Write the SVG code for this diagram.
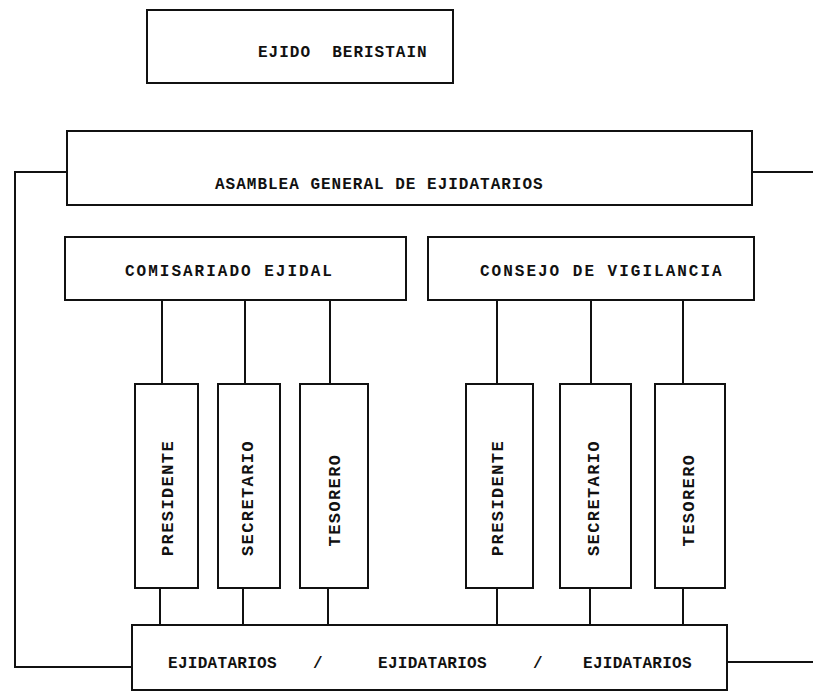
<svg xmlns="http://www.w3.org/2000/svg" width="813" height="695" viewBox="0 0 813 695">
<style>
.box{fill:none;stroke:#111;stroke-width:2}
.ln{fill:none;stroke:#111;stroke-width:2}
.t{font-family:"Liberation Mono","DejaVu Sans Mono",monospace;font-size:16px;font-weight:bold;fill:#111;letter-spacing:1px;white-space:pre}
.w{letter-spacing:2px}
.n{letter-spacing:0.3px}
.v{font-size:17px;letter-spacing:1.4px}
</style>
<rect width="813" height="695" fill="#fff"/>
<g id="connectors">
<path class="ln" d="M67,172 H15 V667 H132"/>
<path class="ln" d="M752,172 H813"/>
<path class="ln" d="M727,662 H813"/>
<path class="ln" d="M162,300 V384 M245,300 V384 M330,300 V384"/>
<path class="ln" d="M497,300 V384 M591,300 V384 M683,300 V384"/>
<path class="ln" d="M160,588 V625 M243,588 V625 M328,588 V625"/>
<path class="ln" d="M497,588 V625 M590,588 V625 M683,588 V625"/>
</g>
<g id="ejido">
<rect class="box" x="147" y="10" width="306" height="73"/>
<text class="t" x="258" y="57" xml:space="preserve">EJIDO  BERISTAIN</text>
</g>
<g id="asamblea">
<rect class="box" x="67" y="131" width="685" height="74"/>
<text class="t" x="215" y="189">ASAMBLEA GENERAL DE EJIDATARIOS</text>
</g>
<g id="comisariado">
<rect class="box" x="65" y="237" width="341" height="63"/>
<text class="t w" x="125" y="276">COMISARIADO EJIDAL</text>
</g>
<g id="consejo">
<rect class="box" x="428" y="237" width="326" height="63"/>
<text class="t w" x="480" y="276">CONSEJO DE VIGILANCIA</text>
</g>
<g id="c-presidente">
<rect class="box" x="135" y="384" width="63" height="204"/>
<text class="t v" transform="translate(173,498) rotate(-90)" text-anchor="middle">PRESIDENTE</text>
</g>
<g id="c-secretario">
<rect class="box" x="218" y="384" width="62" height="204"/>
<text class="t v" transform="translate(253,498) rotate(-90)" text-anchor="middle">SECRETARIO</text>
</g>
<g id="c-tesorero">
<rect class="box" x="300" y="384" width="68" height="204"/>
<text class="t v" transform="translate(340,500) rotate(-90)" text-anchor="middle">TESORERO</text>
</g>
<g id="v-presidente">
<rect class="box" x="466" y="384" width="67" height="204"/>
<text class="t v" transform="translate(503,498) rotate(-90)" text-anchor="middle">PRESIDENTE</text>
</g>
<g id="v-secretario">
<rect class="box" x="560" y="384" width="71" height="204"/>
<text class="t v" transform="translate(599,498) rotate(-90)" text-anchor="middle">SECRETARIO</text>
</g>
<g id="v-tesorero">
<rect class="box" x="655" y="384" width="70" height="204"/>
<text class="t v" transform="translate(694,500) rotate(-90)" text-anchor="middle">TESORERO</text>
</g>
<g id="ejidatarios">
<rect class="box" x="132" y="625" width="595" height="65"/>
<text class="t n" x="168" y="668">EJIDATARIOS</text>
<text class="t" x="313" y="668">/</text>
<text class="t n" x="378" y="668">EJIDATARIOS</text>
<text class="t" x="533" y="668">/</text>
<text class="t n" x="583" y="668">EJIDATARIOS</text>
</g>
</svg>
